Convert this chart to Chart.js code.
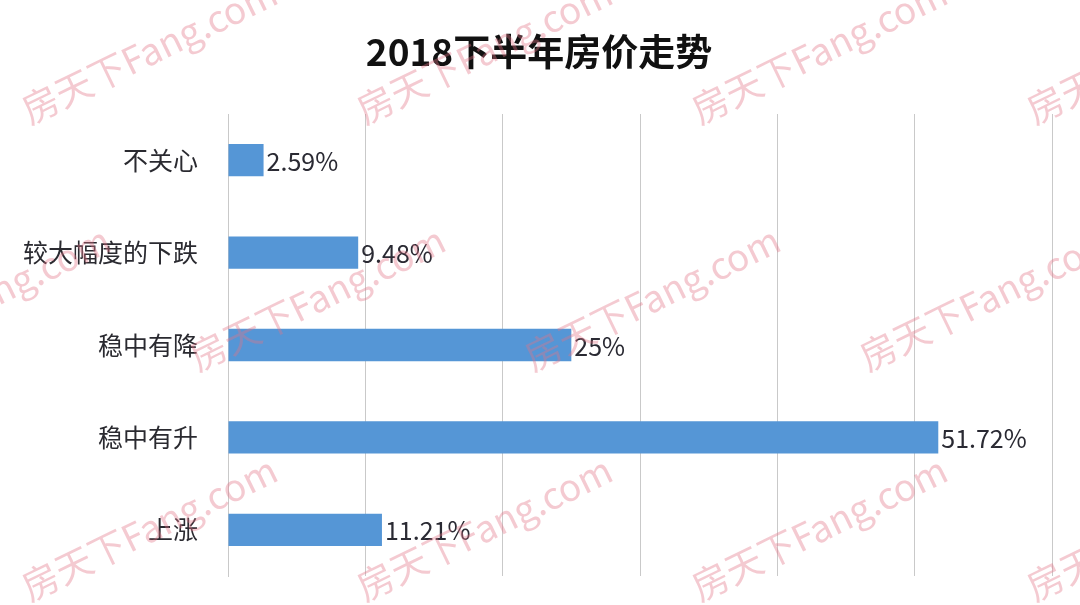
<!DOCTYPE html>
<html>
<head>
<meta charset="utf-8">
<script src="https://cdn.jsdelivr.net/npm/chart.js@4/dist/chart.umd.min.js"></script>
<style>
  html, body { margin: 0; padding: 0; background: #ffffff; }
  #wrap { width: 1080px; height: 605px; position: relative; }
</style>
</head>
<body>
<div id="wrap"><canvas id="c" width="1080" height="605"></canvas></div>
<script>
const titleText = '2018下半年房价走势';
const categories = ['不关心', '较大幅度的下跌', '稳中有降', '稳中有升', '上涨'];
const values = [2.59, 9.48, 25, 51.72, 11.21];
const valueLabels = ['2.59%', '9.48%', '25%', '51.72%', '11.21%'];
const axisMin = 0, axisMax = 60, axisStep = 10;
const watermarkText = '房天下Fang.com';

const CJK = '"Noto Sans CJK SC", "Noto Sans", sans-serif';

const watermarkPlugin = {
  id: 'watermark',
  afterDraw(chart) {
    const ctx = chart.ctx;
    ctx.save();
    ctx.font = '37px ' + CJK;
    ctx.fillStyle = 'rgba(226, 115, 135, 0.38)';
    ctx.textBaseline = 'alphabetic';
    const rows = [[125, 30], [372, -137], [602, 30]];
    rows.forEach(([y, x0]) => {
      for (let x = x0; x < 1080; x += 335) {
        ctx.save();
        ctx.translate(x, y);
        ctx.rotate(-26 * Math.PI / 180);
        ctx.fillText(watermarkText, 0, 0);
        ctx.restore();
      }
    });
    ctx.restore();
  }
};

const titlePlugin = {
  id: 'customTitle',
  beforeDraw(chart) {
    const ctx = chart.ctx;
    ctx.save();
    ctx.fillStyle = '#ffffff';
    ctx.fillRect(0, 0, chart.width, chart.height);
    ctx.font = 'bold 37px ' + CJK;
    ctx.fillStyle = '#111111';
    ctx.textAlign = 'center';
    ctx.textBaseline = 'middle';
    ctx.fillText(titleText, 539, 52);
    ctx.restore();
  }
};

const valueLabelPlugin = {
  id: 'valueLabels',
  afterDatasetsDraw(chart) {
    const ctx = chart.ctx;
    const meta = chart.getDatasetMeta(0);
    ctx.save();
    ctx.font = '25px ' + CJK;
    ctx.fillStyle = '#2a2a33';
    ctx.textAlign = 'left';
    ctx.textBaseline = 'middle';
    meta.data.forEach((bar, i) => {
      ctx.fillText(valueLabels[i], bar.x + 3, bar.y + 1);
    });
    ctx.restore();
  }
};

new Chart(document.getElementById('c'), {
  type: 'bar',
  data: {
    labels: categories,
    datasets: [{
      data: values,
      backgroundColor: '#5596d6',
      borderWidth: 0,
      categoryPercentage: 1.0,
      barPercentage: 0.35
    }]
  },
  options: {
    indexAxis: 'y',
    responsive: false,
    maintainAspectRatio: false,
    animation: false,
    devicePixelRatio: 1,
    layout: { padding: { top: 114, bottom: 29, left: 0, right: 28 } },
    plugins: {
      legend: { display: false },
      title: { display: false },
      tooltip: { enabled: false }
    },
    scales: {
      x: {
        min: axisMin,
        max: axisMax,
        ticks: { display: false, stepSize: axisStep },
        grid: { color: '#c9c9c9', lineWidth: 1, drawTicks: false },
        border: { display: false },
        afterFit(scale) { scale.height = 0; }
      },
      y: {
        ticks: {
          font: { family: CJK, size: 25 },
          color: '#2a2a30',
          padding: 30
        },
        grid: { display: false, drawTicks: false },
        border: { display: true, color: '#c9c9c9' },
        afterFit(scale) {
          scale.width = 228;
          scale.paddingTop = 0;
          scale.paddingBottom = 0;
        }
      }
    }
  },
  plugins: [titlePlugin, valueLabelPlugin, watermarkPlugin]
});
</script>
</body>
</html>
